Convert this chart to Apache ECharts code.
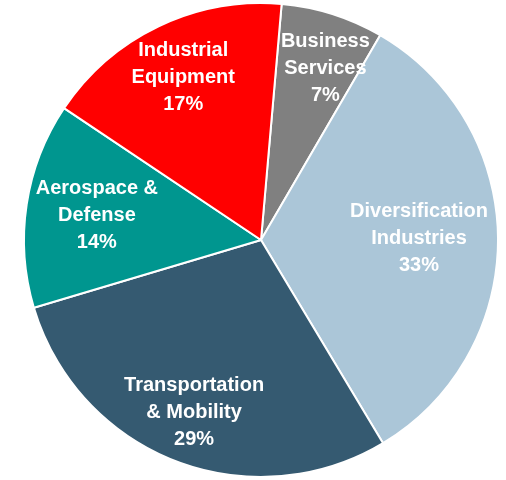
<!DOCTYPE html>
<html>
<head>
<meta charset="utf-8">
<script src="https://cdn.jsdelivr.net/npm/echarts@6/dist/echarts.min.js"></script>
<style>
  html, body { margin: 0; padding: 0; background: #fff; }
  #chart { width: 506px; height: 480px; }
</style>
</head>
<body>
<div id="chart"></div>
<script>
// slices clockwise, starting just right of 12 o'clock
const categories = ['Business\nServices', 'Diversification\nIndustries', 'Transportation\n& Mobility', 'Aerospace &\nDefense', 'Industrial\nEquipment'];
const shares = [7, 33, 29, 14, 17];
const sliceColors = ['#808080', '#abc6d8', '#355a71', '#00968f', '#ff0000'];
// label placement: distance from centre (px) and a small angular nudge (deg)
const labelRadius = [180, 155, 182, 163, 177];
const labelTurn = [-3, 0, 0, 0, 0];

const chart = echarts.init(document.getElementById('chart'));

const pieCenter = [261, 240];
const startAngle = 85;

const labelSeries = categories.map((_, i) => ({
  type: 'pie',
  silent: true,
  center: pieCenter,
  radius: [labelRadius[i] - 5, labelRadius[i] + 5],
  startAngle: startAngle + labelTurn[i],
  avoidLabelOverlap: false,
  itemStyle: { color: 'rgba(0,0,0,0)' },
  label: {
    position: 'inside',
    formatter: '{b}\n{c}%',
    color: '#fff',
    fontFamily: 'Liberation Sans, Arial, sans-serif',
    fontWeight: 'bold',
    fontSize: 20,
    lineHeight: 27
  },
  labelLine: { show: false },
  data: shares.map((v, j) => ({ value: v, name: categories[j], label: { show: j === i } }))
}));

chart.setOption({
  animation: false,
  series: [{
    type: 'pie',
    center: pieCenter,
    radius: 237,
    startAngle: startAngle,
    label: { show: false },
    labelLine: { show: false },
    emphasis: { disabled: true },
    itemStyle: { borderColor: '#fff', borderWidth: 2 },
    data: shares.map((v, i) => ({ value: v, name: categories[i], itemStyle: { color: sliceColors[i] } }))
  }].concat(labelSeries)
});
</script>
</body>
</html>
